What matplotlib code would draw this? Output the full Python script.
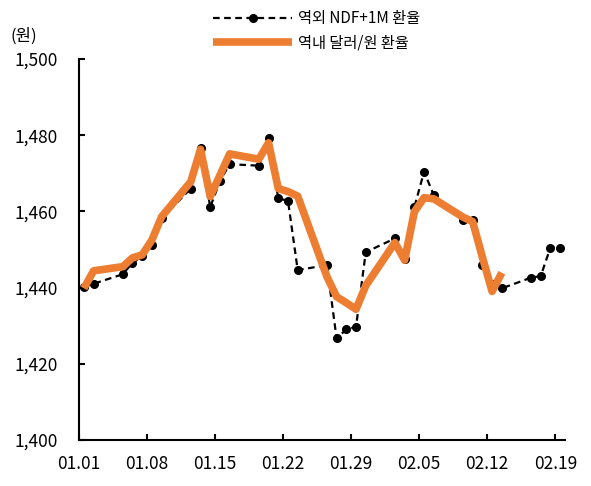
import numpy as np
import pandas as pd
import matplotlib
matplotlib.use("Agg")
import matplotlib.pyplot as plt
from matplotlib.ticker import FuncFormatter

plt.rcParams['font.family'] = ['Noto Sans CJK KR', 'DejaVu Sans']

# 역내 달러/원 환율 (onshore close)
onshore_dates = ['01.01', '01.02', '01.05', '01.06', '01.07', '01.08', '01.09',
                 '01.12', '01.13', '01.14', '01.15', '01.16',
                 '01.19', '01.20', '01.21', '01.22', '01.23',
                 '01.26', '01.27', '01.28', '01.29', '01.30',
                 '02.02', '02.03', '02.04', '02.05', '02.06',
                 '02.09', '02.10', '02.11', '02.12', '02.13']
onshore_vals = [1439.8, 1444.4, 1445.5, 1447.8, 1448.6, 1452.5, 1458.6,
                1467.8, 1476.3, 1463.9, 1469.5, 1475.1,
                1473.7, 1478.0, 1466.0, 1465.2, 1464.0,
                1442.9, 1437.6, 1436.0, 1434.3, 1440.5,
                1451.8, 1447.2, 1459.9, 1463.6, 1463.3,
                1458.5, 1457.3, 1448.0, 1439.0, 1443.9]

# 역외 NDF+1M 환율
ndf_dates = ['01.01', '01.02', '01.05', '01.06', '01.07', '01.08', '01.09',
             '01.12', '01.13', '01.14', '01.15', '01.16',
             '01.19', '01.20', '01.21', '01.22', '01.23',
             '01.26', '01.27', '01.28', '01.29', '01.30',
             '02.02', '02.03', '02.04', '02.05', '02.06',
             '02.09', '02.10', '02.11', '02.12', '02.13',
             '02.16', '02.17', '02.18', '02.19']
ndf_vals = [1440.2, 1441.0, 1443.5, 1446.5, 1448.2, 1451.2, 1458.2,
            1466.0, 1476.6, 1461.1, 1468.0, 1472.4,
            1472.0, 1479.2, 1463.4, 1462.8, 1444.6,
            1445.9, 1426.7, 1429.0, 1429.7, 1449.3,
            1452.9, 1447.5, 1461.1, 1470.4, 1464.3,
            1457.7, 1457.7, 1445.9, 1441.0, 1439.8,
            1442.6, 1443.0, 1450.5, 1450.5]

tick_labels = ['01.01', '01.08', '01.15', '01.22', '01.29', '02.05', '02.12', '02.19']

start = pd.Timestamp('2026-01-01')


def to_days(labels):
    d = pd.to_datetime(['2026.' + s for s in labels], format='%Y.%m.%d')
    # Excel date axis: points sit in the middle of each day
    return (d - start).days.values + 0.5


fig = plt.figure(figsize=(5.91, 4.86), dpi=100)
ax = fig.add_axes([0.1337, 0.0947, 0.8223, 0.7839])

ax.plot(to_days(ndf_dates), ndf_vals, color='black', lw=1.6, ls=(0, (3, 2)),
        marker='o', ms=5.5, label='역외 NDF+1M 환율', zorder=2)
ax.plot(to_days(onshore_dates), onshore_vals, color='#ED7D31', lw=5.5,
        solid_capstyle='butt', label='역내 달러/원 환율', zorder=3)

ax.set_xlim(0, 50)
ax.set_ylim(1400, 1500)
ax.set_xticks(to_days(tick_labels) - 0.5)
ax.set_xticklabels(tick_labels)
ax.set_yticks(np.arange(1400, 1501, 20))
ax.yaxis.set_major_formatter(FuncFormatter(lambda v, p: f'{v:,.0f}'))

for s in ['top', 'right']:
    ax.spines[s].set_visible(False)
for s in ['left', 'bottom']:
    ax.spines[s].set_linewidth(1.5)
ax.tick_params(direction='in', length=4, width=1.5, labelsize=12.5)
ax.tick_params(axis='x', pad=11)
ax.tick_params(axis='y', pad=15)

fig.text(0.018, 0.926, '(원)', fontsize=12, va='center', ha='left')

ax.legend(loc='lower left', bbox_to_anchor=(0.26, 1.0), frameon=False,
          fontsize=11, handlelength=5.2, handletextpad=0.35, labelspacing=0.45,
          borderaxespad=0.1)

fig.savefig('out.png', dpi=100)
